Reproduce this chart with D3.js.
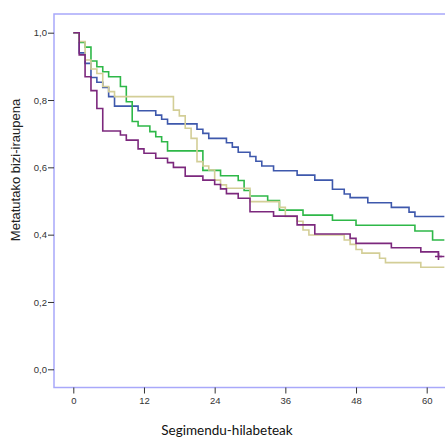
<!DOCTYPE html>
<html>
<head>
<meta charset="utf-8">
<script src="https://cdn.jsdelivr.net/npm/d3@7"></script>
<style>
  html, body { margin: 0; padding: 0; background: #fff; }
  svg { display: block; }
</style>
</head>
<body>
<svg id="chart" width="445" height="440"></svg>
<script>
// ---- data (event times in months, survival after each drop) ----
const xTicks = [0, 12, 24, 36, 48, 60];
const yTicks = [0, 0.2, 0.4, 0.6, 0.8, 1.0];
const groups = ["1", "2", "3", "4"];
const colors = ["#3E58AC", "#2EB848", "#D3CE97", "#7C287D"];

const blueTimes = [1, 2, 3, 4, 5, 6, 7, 11, 14, 15, 16, 21, 22, 23, 26, 27, 28, 30, 31, 32, 34, 38, 41, 44, 46, 47, 50, 54, 57, 58];
const blueSurv  = [0.94, 0.909, 0.867, 0.853, 0.837, 0.810, 0.782, 0.768, 0.755, 0.743, 0.729, 0.713, 0.701, 0.686, 0.673, 0.660, 0.645, 0.632, 0.618, 0.604, 0.590, 0.577, 0.562, 0.535, 0.521, 0.510, 0.495, 0.481, 0.467, 0.454];

const greenTimes = [1, 2, 3, 4, 5, 6, 8, 9, 10, 11, 13, 14, 15, 16, 22, 25, 28, 29, 30, 33, 35, 39, 44, 48, 58, 61];
const greenSurv  = [0.971, 0.957, 0.916, 0.899, 0.884, 0.869, 0.840, 0.795, 0.736, 0.723, 0.706, 0.691, 0.676, 0.649, 0.591, 0.575, 0.561, 0.531, 0.515, 0.501, 0.473, 0.458, 0.443, 0.428, 0.411, 0.384];

const beigeTimes = [1, 2, 3, 4, 5, 6, 7, 17, 18, 19, 20, 21, 22, 23, 24, 25, 26, 30, 35, 36, 38, 39, 40, 46, 47, 48, 49, 52, 53, 59];
const beigeSurv  = [0.974, 0.919, 0.892, 0.879, 0.840, 0.825, 0.810, 0.770, 0.753, 0.716, 0.686, 0.617, 0.604, 0.592, 0.562, 0.548, 0.538, 0.498, 0.481, 0.454, 0.440, 0.414, 0.399, 0.384, 0.371, 0.356, 0.345, 0.330, 0.317, 0.303];

const purpleTimes = [1, 2, 3, 4, 5, 8, 9, 11, 12, 14, 16, 17, 19, 22, 24, 25, 26, 28, 30, 34, 38, 41, 47, 48, 54, 59, 62];
const purpleSurv  = [0.934, 0.869, 0.828, 0.775, 0.708, 0.696, 0.681, 0.655, 0.642, 0.627, 0.614, 0.600, 0.574, 0.562, 0.549, 0.536, 0.522, 0.508, 0.468, 0.455, 0.429, 0.402, 0.389, 0.374, 0.361, 0.349, 0.335];

const seriesTimes = [blueTimes, greenTimes, beigeTimes, purpleTimes];
const seriesSurv  = [blueSurv, greenSurv, beigeSurv, purpleSurv];
const lastTime = [63, 63, 63, 63];
const censorTimes = [[], [], [], [62]];

const xTitle = "Segimendu-hilabeteak";
const yTitle = "Metatutako bizi-iraupena";

// ---- layout ----
const svg = d3.select("#chart");
const frame = { left: 54, top: 14, bottom: 387.5, right: 470 };
const x = d3.scaleLinear().domain([0, 60]).range([73.3, 426.7]);
const y = d3.scaleLinear().domain([0, 1]).range([369.3, 32.7]);

// frame
svg.append("rect")
  .attr("x", frame.left).attr("y", frame.top)
  .attr("width", frame.right - frame.left).attr("height", frame.bottom - frame.top)
  .attr("fill", "none").attr("stroke", "#a8a8fa").attr("stroke-width", 1.5);

const fmt = d => d3.format(".1f")(d).replace(".", ",");

// y axis
const yAxis = svg.append("g")
  .attr("transform", `translate(${frame.left},0)`)
  .call(d3.axisLeft(y).tickValues(yTicks).tickFormat(fmt).tickSize(6).tickPadding(1));
yAxis.select(".domain").remove();
yAxis.selectAll("line").attr("stroke", "#333");
yAxis.selectAll("text").attr("fill", "#333").style("font-family", "'Liberation Sans', Arial, sans-serif").style("font-size", "9.5px");

// x axis
const xAxis = svg.append("g")
  .attr("transform", `translate(0,${frame.bottom})`)
  .call(d3.axisBottom(x).tickValues(xTicks).tickFormat(d3.format("d")).tickSize(6).tickPadding(4));
xAxis.select(".domain").remove();
xAxis.selectAll("line").attr("stroke", "#333");
xAxis.selectAll("text").attr("fill", "#333").style("font-family", "'Liberation Sans', Arial, sans-serif").style("font-size", "9.5px");

// titles
svg.append("text")
  .attr("x", 227).attr("y", 435)
  .attr("text-anchor", "middle")
  .style("font-family", "Lato, 'Open Sans', sans-serif").style("font-size", "13.5px")
  .attr("fill", "#111")
  .text(xTitle);

svg.append("text")
  .attr("transform", "translate(20,170) rotate(-90)")
  .attr("text-anchor", "middle")
  .style("font-family", "'Liberation Sans', Arial, sans-serif").style("font-size", "13px")
  .attr("fill", "#222")
  .text(yTitle);

// curves
const line = d3.line().x(d => x(d[0])).y(d => y(d[1])).curve(d3.curveStepAfter);
groups.forEach((g, i) => {
  const pts = [[0, 1]];
  seriesTimes[i].forEach((t, j) => pts.push([t, seriesSurv[i][j]]));
  pts.push([lastTime[i], seriesSurv[i][seriesSurv[i].length - 1]]);
  svg.append("path")
    .datum(pts)
    .attr("fill", "none")
    .attr("stroke", colors[i])
    .attr("stroke-width", 1.6)
    .attr("d", line);
  // censor marks
  censorTimes[i].forEach(ct => {
    const s = seriesSurv[i][seriesSurv[i].length - 1];
    const cx = x(ct), cy = y(s);
    svg.append("path")
      .attr("d", `M${cx - 3.5},${cy}H${cx + 3.5}M${cx},${cy - 3.5}V${cy + 3.5}`)
      .attr("stroke", colors[i]).attr("stroke-width", 1.6);
  });
});
</script>
</body>
</html>
